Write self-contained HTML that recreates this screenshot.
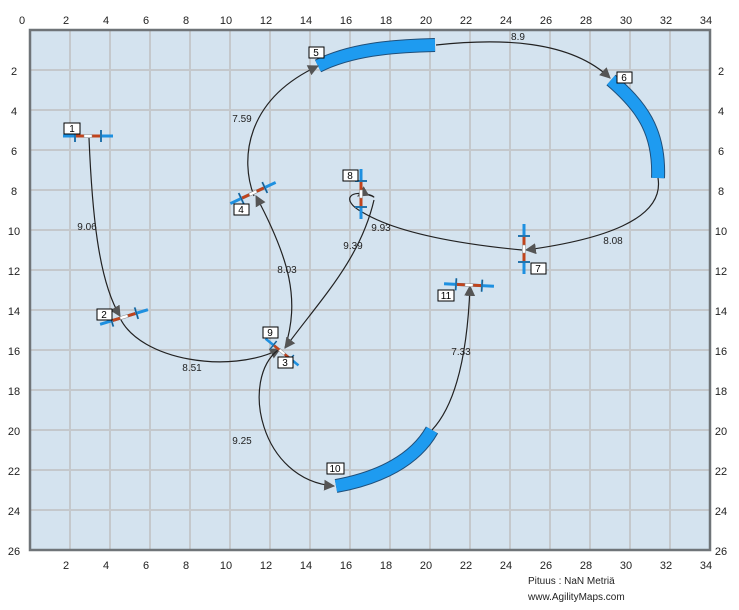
<!DOCTYPE html>
<html><head><meta charset="utf-8"><style>
body{margin:0;background:#fff;}
svg{display:block;font-family:"Liberation Sans","DejaVu Sans",sans-serif;}
</style></head><body>
<svg width="739" height="610" viewBox="0 0 739 610" xmlns="http://www.w3.org/2000/svg">
<defs>
<marker id="ar" viewBox="0 0 10 10" refX="9" refY="5" markerWidth="11" markerHeight="11" orient="auto-start-reverse" markerUnits="userSpaceOnUse">
<path d="M0,0 L10,5 L0,10 z" fill="#555"/></marker>
<g id="jmp">
<line x1="-25" y1="0" x2="25" y2="0" stroke="#1e90e0" stroke-width="3"/>
<line x1="-13" y1="0" x2="13" y2="0" stroke="#c0441c" stroke-width="3"/>
<rect x="-4" y="-1.5" width="8" height="3" fill="#fff" stroke="#888" stroke-width="0.5"/>
<line x1="-13" y1="-6" x2="-13" y2="6" stroke="#1e90e0" stroke-width="2"/>
<line x1="13" y1="-6" x2="13" y2="6" stroke="#1e90e0" stroke-width="2"/>
<line x1="-13" y1="-6" x2="-13" y2="6" stroke="#333" stroke-width="0.6"/>
<line x1="13" y1="-6" x2="13" y2="6" stroke="#333" stroke-width="0.6"/>
</g>
</defs>
<rect x="30" y="30" width="680" height="520" fill="#d4e3ef"/>
<g stroke="#c4c8cc" stroke-width="2">
<line x1="70" y1="30" x2="70" y2="550"/><line x1="110" y1="30" x2="110" y2="550"/><line x1="150" y1="30" x2="150" y2="550"/><line x1="190" y1="30" x2="190" y2="550"/><line x1="230" y1="30" x2="230" y2="550"/><line x1="270" y1="30" x2="270" y2="550"/><line x1="310" y1="30" x2="310" y2="550"/><line x1="350" y1="30" x2="350" y2="550"/><line x1="390" y1="30" x2="390" y2="550"/><line x1="430" y1="30" x2="430" y2="550"/><line x1="470" y1="30" x2="470" y2="550"/><line x1="510" y1="30" x2="510" y2="550"/><line x1="550" y1="30" x2="550" y2="550"/><line x1="590" y1="30" x2="590" y2="550"/><line x1="630" y1="30" x2="630" y2="550"/><line x1="670" y1="30" x2="670" y2="550"/>
<line x1="30" y1="70" x2="710" y2="70"/><line x1="30" y1="110" x2="710" y2="110"/><line x1="30" y1="150" x2="710" y2="150"/><line x1="30" y1="190" x2="710" y2="190"/><line x1="30" y1="230" x2="710" y2="230"/><line x1="30" y1="270" x2="710" y2="270"/><line x1="30" y1="310" x2="710" y2="310"/><line x1="30" y1="350" x2="710" y2="350"/><line x1="30" y1="390" x2="710" y2="390"/><line x1="30" y1="430" x2="710" y2="430"/><line x1="30" y1="470" x2="710" y2="470"/><line x1="30" y1="510" x2="710" y2="510"/>
</g>
<rect x="30" y="30" width="680" height="520" fill="none" stroke="#6f7478" stroke-width="2.5"/>
<g font-size="11" fill="#222" text-anchor="middle">
<text x="22" y="24">0</text><text x="66" y="24">2</text><text x="106" y="24">4</text><text x="146" y="24">6</text><text x="186" y="24">8</text><text x="226" y="24">10</text><text x="266" y="24">12</text><text x="306" y="24">14</text><text x="346" y="24">16</text><text x="386" y="24">18</text><text x="426" y="24">20</text><text x="466" y="24">22</text><text x="506" y="24">24</text><text x="546" y="24">26</text><text x="586" y="24">28</text><text x="626" y="24">30</text><text x="666" y="24">32</text><text x="706" y="24">34</text>
<text x="66" y="569">2</text><text x="106" y="569">4</text><text x="146" y="569">6</text><text x="186" y="569">8</text><text x="226" y="569">10</text><text x="266" y="569">12</text><text x="306" y="569">14</text><text x="346" y="569">16</text><text x="386" y="569">18</text><text x="426" y="569">20</text><text x="466" y="569">22</text><text x="506" y="569">24</text><text x="546" y="569">26</text><text x="586" y="569">28</text><text x="626" y="569">30</text><text x="666" y="569">32</text><text x="706" y="569">34</text>
<text x="14" y="75">2</text><text x="14" y="115">4</text><text x="14" y="155">6</text><text x="14" y="195">8</text><text x="14" y="235">10</text><text x="14" y="275">12</text><text x="14" y="315">14</text><text x="14" y="355">16</text><text x="14" y="395">18</text><text x="14" y="435">20</text><text x="14" y="475">22</text><text x="14" y="515">24</text><text x="14" y="555">26</text>
<text x="721" y="75">2</text><text x="721" y="115">4</text><text x="721" y="155">6</text><text x="721" y="195">8</text><text x="721" y="235">10</text><text x="721" y="275">12</text><text x="721" y="315">14</text><text x="721" y="355">16</text><text x="721" y="395">18</text><text x="721" y="435">20</text><text x="721" y="475">22</text><text x="721" y="515">24</text><text x="721" y="555">26</text>
</g>
<!-- tunnels -->
<g fill="none">
<path d="M318,66 C350,50 390,46 435,45" stroke="#1f4f7a" stroke-width="14"/>
<path d="M318,66 C350,50 390,46 435,45" stroke="#1e9bf0" stroke-width="12"/>
<path d="M611,80 C640,105 660,130 658,178" stroke="#1f4f7a" stroke-width="14"/>
<path d="M611,80 C640,105 660,130 658,178" stroke="#1e9bf0" stroke-width="12"/>
<path d="M336,486 C380,478 415,460 432,430" stroke="#1f4f7a" stroke-width="14"/>
<path d="M336,486 C380,478 415,460 432,430" stroke="#1e9bf0" stroke-width="12"/>
</g>
<!-- connectors -->
<g fill="none" stroke="#222" stroke-width="1.2">
<path d="M89,138 C92,210 98,280 120,316" marker-end="url(#ar)"/>
<path d="M120,318 C140,360 230,375 280,349" marker-end="url(#ar)"/>
<path d="M285,348 C300,300 290,260 256,196" marker-end="url(#ar)"/>
<path d="M254,196 C240,160 245,100 318,66" marker-end="url(#ar)"/>
<path d="M436,45 C500,38 570,40 610,78" marker-end="url(#ar)"/>
<path d="M658,178 C665,220 600,240 526,250" marker-end="url(#ar)"/>
<path d="M522,250 C470,245 400,235 362,212 C340,200 350,188 372,196 C378,200 368,190 358,196" marker-end="url(#ar)"/>
<path d="M374,200 C360,260 320,300 285,348" marker-end="url(#ar)"/>
<path d="M278,350 C240,380 260,480 334,486" marker-end="url(#ar)"/>
<path d="M432,430 C460,400 468,340 470,286" marker-end="url(#ar)"/>
</g>
<!-- jumps -->
<use href="#jmp" transform="translate(88,136)"/>
<use href="#jmp" transform="translate(124,317) rotate(-17)"/>
<use href="#jmp" transform="translate(253,193) rotate(-25)"/>
<use href="#jmp" transform="translate(282,352) rotate(39) scale(0.85)"/>
<use href="#jmp" transform="translate(361,194) rotate(90)"/>
<use href="#jmp" transform="translate(524,249) rotate(90)"/>
<use href="#jmp" transform="translate(469,285) rotate(3)"/>
<!-- distance labels -->
<g font-size="10" fill="#222" text-anchor="middle">
<text x="87" y="230">9.06</text><text x="192" y="371">8.51</text><text x="287" y="273">8.03</text><text x="242" y="122">7.59</text><text x="518" y="40">8.9</text><text x="613" y="244">8.08</text><text x="381" y="231">9.93</text><text x="353" y="249">9.39</text><text x="242" y="444">9.25</text><text x="461" y="355">7.33</text>
</g>
<!-- number labels -->
<g font-size="10" fill="#000" text-anchor="middle">
<rect x="64" y="123" width="16" height="11" fill="#fff" stroke="#000"/><text x="72" y="132">1</text>
<rect x="97" y="309" width="15" height="11" fill="#fff" stroke="#000"/><text x="104" y="318">2</text>
<rect x="278" y="357" width="15" height="11" fill="#fff" stroke="#000"/><text x="285" y="366">3</text>
<rect x="234" y="204" width="15" height="11" fill="#fff" stroke="#000"/><text x="241" y="213">4</text>
<rect x="309" y="47" width="15" height="11" fill="#fff" stroke="#000"/><text x="316" y="56">5</text>
<rect x="617" y="72" width="15" height="11" fill="#fff" stroke="#000"/><text x="624" y="81">6</text>
<rect x="531" y="263" width="15" height="11" fill="#fff" stroke="#000"/><text x="538" y="272">7</text>
<rect x="343" y="170" width="15" height="11" fill="#fff" stroke="#000"/><text x="350" y="179">8</text>
<rect x="263" y="327" width="15" height="11" fill="#fff" stroke="#000"/><text x="270" y="336">9</text>
<rect x="327" y="463" width="17" height="11" fill="#fff" stroke="#000"/><text x="335" y="472">10</text>
<rect x="438" y="290" width="16" height="11" fill="#fff" stroke="#000"/><text x="446" y="299">11</text>
</g>
<g font-size="10" fill="#222">
<text x="528" y="584">Pituus : NaN Metriä</text>
<text x="528" y="600">www.AgilityMaps.com</text>
</g>
</svg>
</body></html>
